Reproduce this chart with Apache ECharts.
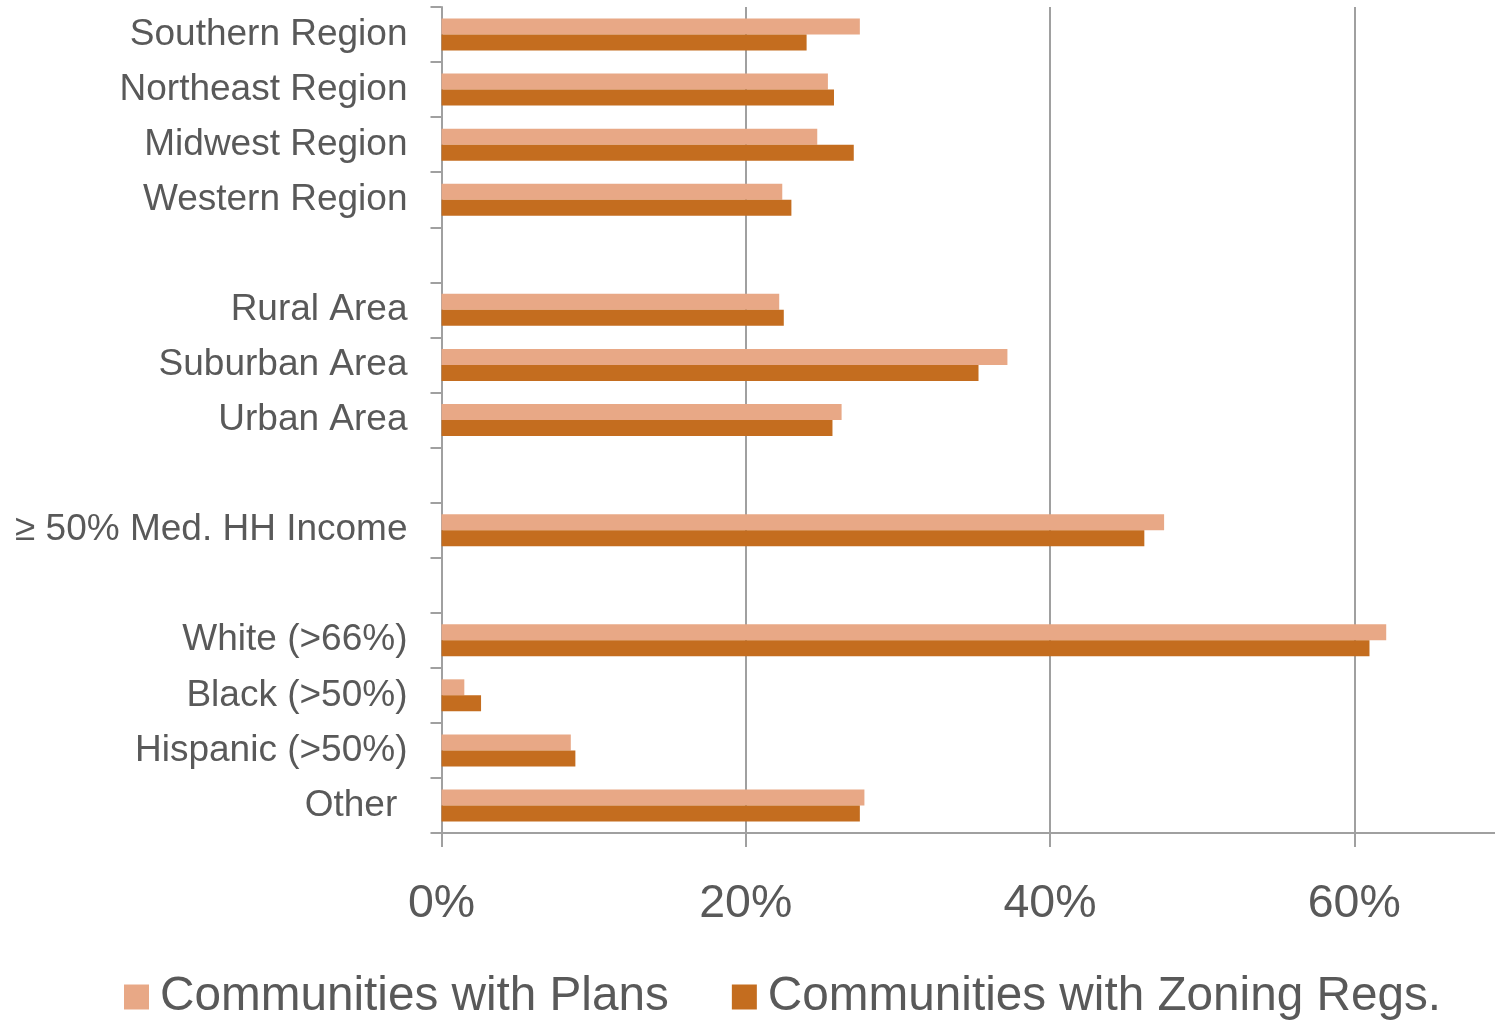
<!DOCTYPE html>
<html>
<head>
<meta charset="utf-8">
<title>Communities with Plans and Zoning Regulations</title>
<script src="https://cdn.jsdelivr.net/npm/echarts@6/dist/echarts.min.js"></script>
<style>
  html, body { margin: 0; padding: 0; background: #ffffff; }
  #chart { width: 1495px; height: 1021px; }
</style>
</head>
<body>
<div id="chart"></div>
<script>
// Category rows, top to bottom; empty strings are spacer rows between groups
var categories = [
  'Southern Region', 'Northeast Region', 'Midwest Region', 'Western Region',
  '',
  'Rural Area', 'Suburban Area', 'Urban Area',
  '',
  '\u2265 50% Med. HH Income',
  '',
  'White (>66%)', 'Black (>50%)', 'Hispanic (>50%)', 'Other '
];

// Share of communities (fraction), null for spacer rows
var plansValues = [
  0.275, 0.254, 0.247, 0.224,
  null,
  0.222, 0.372, 0.263,
  null,
  0.475,
  null,
  0.621, 0.015, 0.085, 0.278
];
var zoningValues = [
  0.240, 0.258, 0.271, 0.230,
  null,
  0.225, 0.353, 0.257,
  null,
  0.462,
  null,
  0.610, 0.026, 0.088, 0.275
];

var seriesNames = ['Communities with Plans', 'Communities with Zoning Regs.'];
var seriesColors = ['#E8A886', '#C46D1F'];

var textColor = '#595959';
var lineColor = '#A0A0A0';
var fontFamily = "'Liberation Sans', Arial, Helvetica, sans-serif";

var chart = echarts.init(document.getElementById('chart'), null, { renderer: 'canvas' });

chart.setOption({
  animation: false,
  backgroundColor: '#ffffff',
  textStyle: { fontFamily: fontFamily, color: textColor },
  grid: {
    left: 441.5,
    top: 7,
    bottom: 188,
    right: -11.4,
    containLabel: false,
    outerBoundsMode: 'none'
  },
  legend: {
    data: seriesNames,
    left: 124,
    top: 973,
    padding: 0,
    icon: 'rect',
    itemWidth: 25,
    itemHeight: 25,
    itemGap: 63,
    textStyle: {
      fontFamily: fontFamily,
      fontSize: 47.7,
      color: textColor,
      padding: [0, 0, 0, 6]
    }
  },
  xAxis: {
    type: 'value',
    min: 0,
    max: 0.7,
    interval: 0.2,
    axisLine: { show: true, lineStyle: { color: lineColor, width: 2 } },
    axisTick: { show: true, length: 14, lineStyle: { color: lineColor, width: 2 } },
    splitLine: { show: true, lineStyle: { color: lineColor, width: 2 } },
    axisLabel: {
      showMaxLabel: false,
      margin: 48,
      fontFamily: fontFamily,
      fontSize: 46.5,
      color: textColor,
      formatter: function (v) { return Math.round(v * 100) + '%'; }
    }
  },
  yAxis: {
    type: 'category',
    data: categories,
    inverse: true,
    axisLine: { show: true, lineStyle: { color: lineColor, width: 2 } },
    axisTick: { show: true, length: 11, lineStyle: { color: lineColor, width: 2 } },
    splitLine: { show: false },
    axisLabel: {
      margin: 34,
      interval: 0,
      padding: [4, 0, 0, 0],
      fontFamily: fontFamily,
      fontSize: 37,
      color: textColor
    }
  },
  series: [
    {
      name: seriesNames[0],
      type: 'bar',
      data: plansValues,
      barWidth: 16,
      barGap: '0%',
      itemStyle: { color: seriesColors[0] }
    },
    {
      name: seriesNames[1],
      type: 'bar',
      data: zoningValues,
      barWidth: 16,
      barGap: '0%',
      itemStyle: { color: seriesColors[1] }
    }
  ]
});
</script>
</body>
</html>
